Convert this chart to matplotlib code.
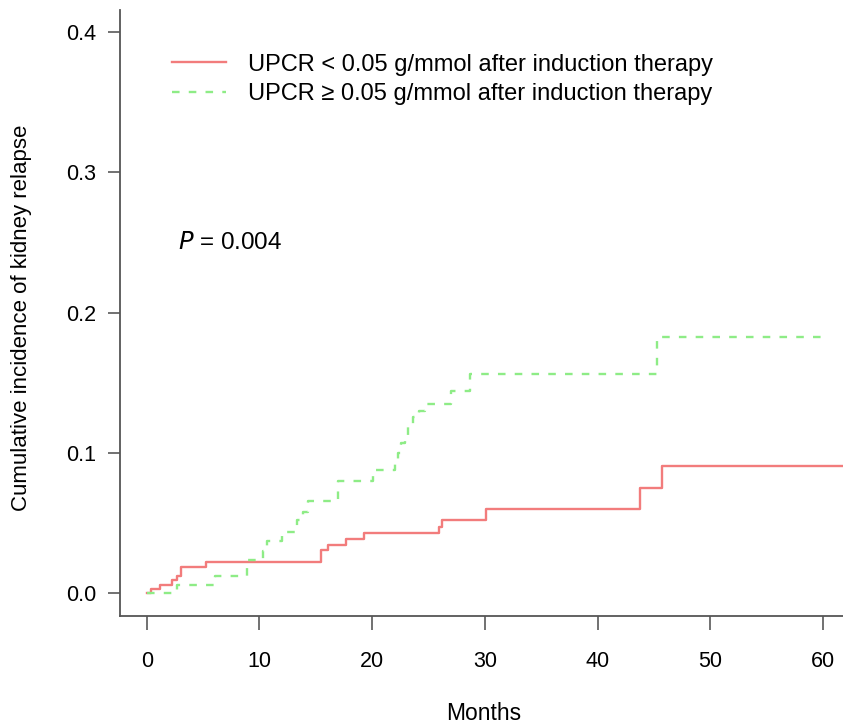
import matplotlib
matplotlib.use('Agg')
import matplotlib.pyplot as plt

plt.rcParams['font.family'] = ['Liberation Sans', 'DejaVu Sans']

# cumulative incidence (months, incidence)
red_t = [0, 0.42, 1.22, 2.28, 2.69, 3.02, 5.24, 15.5, 16.1, 17.7, 19.3,
         25.9, 26.2, 30.1, 43.8, 45.7, 61.8]
red_y = [0, 0.0034, 0.0062, 0.0093, 0.0124, 0.0188, 0.0224, 0.0307, 0.0345,
         0.0386, 0.0433, 0.047, 0.052, 0.0598, 0.075, 0.0905, 0.0905]

green_t = [0, 2.69, 6.03, 8.9, 10.3, 10.7, 12.0, 13.3, 13.9, 14.3, 17.0, 20.1,
           22.0, 22.3, 22.6, 22.9, 23.2, 23.6, 24.2, 24.7, 27.0, 28.7, 45.3, 60.0]
green_y = [0, 0.0059, 0.0124, 0.024, 0.030, 0.037, 0.044, 0.052, 0.058, 0.0655,
           0.080, 0.088, 0.094, 0.100, 0.107, 0.113, 0.119, 0.126, 0.130, 0.135,
           0.144, 0.156, 0.183, 0.183]

labels = ['UPCR < 0.05 g/mmol after induction therapy',
          'UPCR \u2265 0.05 g/mmol after induction therapy']
xticks = [0, 10, 20, 30, 40, 50, 60]
yticks = [0.0, 0.1, 0.2, 0.3, 0.4]

fig = plt.figure(figsize=(8.43, 7.27), dpi=100)
ax = fig.add_axes([120/843, 111/727, 723/843, 606/727])

ax.plot(red_t, red_y, drawstyle='steps-post', color='#f27c7c', lw=1.7,
        label=labels[0])
ax.plot(green_t, green_y, drawstyle='steps-post', color='#8eec86', lw=1.7,
        dashes=(3.2, 3.9), label=labels[1])

ax.set_xlim(-2.37, 61.78)
ax.set_ylim(-0.0161, 0.4157)
ax.set_xticks(xticks)
ax.set_yticks(yticks)
ax.set_yticklabels(['%.1f' % v for v in yticks])

for s in ['top', 'right']:
    ax.spines[s].set_visible(False)
for s in ['left', 'bottom']:
    ax.spines[s].set_color('#555555')
    ax.spines[s].set_linewidth(1.3)

ax.tick_params(axis='x', length=10, width=1.3, color='#666666', pad=15, labelsize=15.5)
ax.tick_params(axis='y', length=9, width=1.3, color='#666666', pad=8, labelsize=15.5)

leg = ax.legend(loc='upper left', bbox_to_anchor=(0.0719, 0.928), frameon=False,
                fontsize=17, handlelength=2.3, handletextpad=0.93, labelspacing=0.33,
                borderpad=0, borderaxespad=0)

ax.text(2.78, 0.2497, '$P$ = 0.004', fontsize=17.5, va='center', ha='left')

fig.text(484/843, 1 - 713/727, 'Months', fontsize=16.5, ha='center', va='center')
fig.text(22/843, 1 - 318/727, 'Cumulative incidence of kidney relapse', fontsize=16,
         ha='center', va='center', rotation=90)

fig.savefig('out.png', dpi=100)
